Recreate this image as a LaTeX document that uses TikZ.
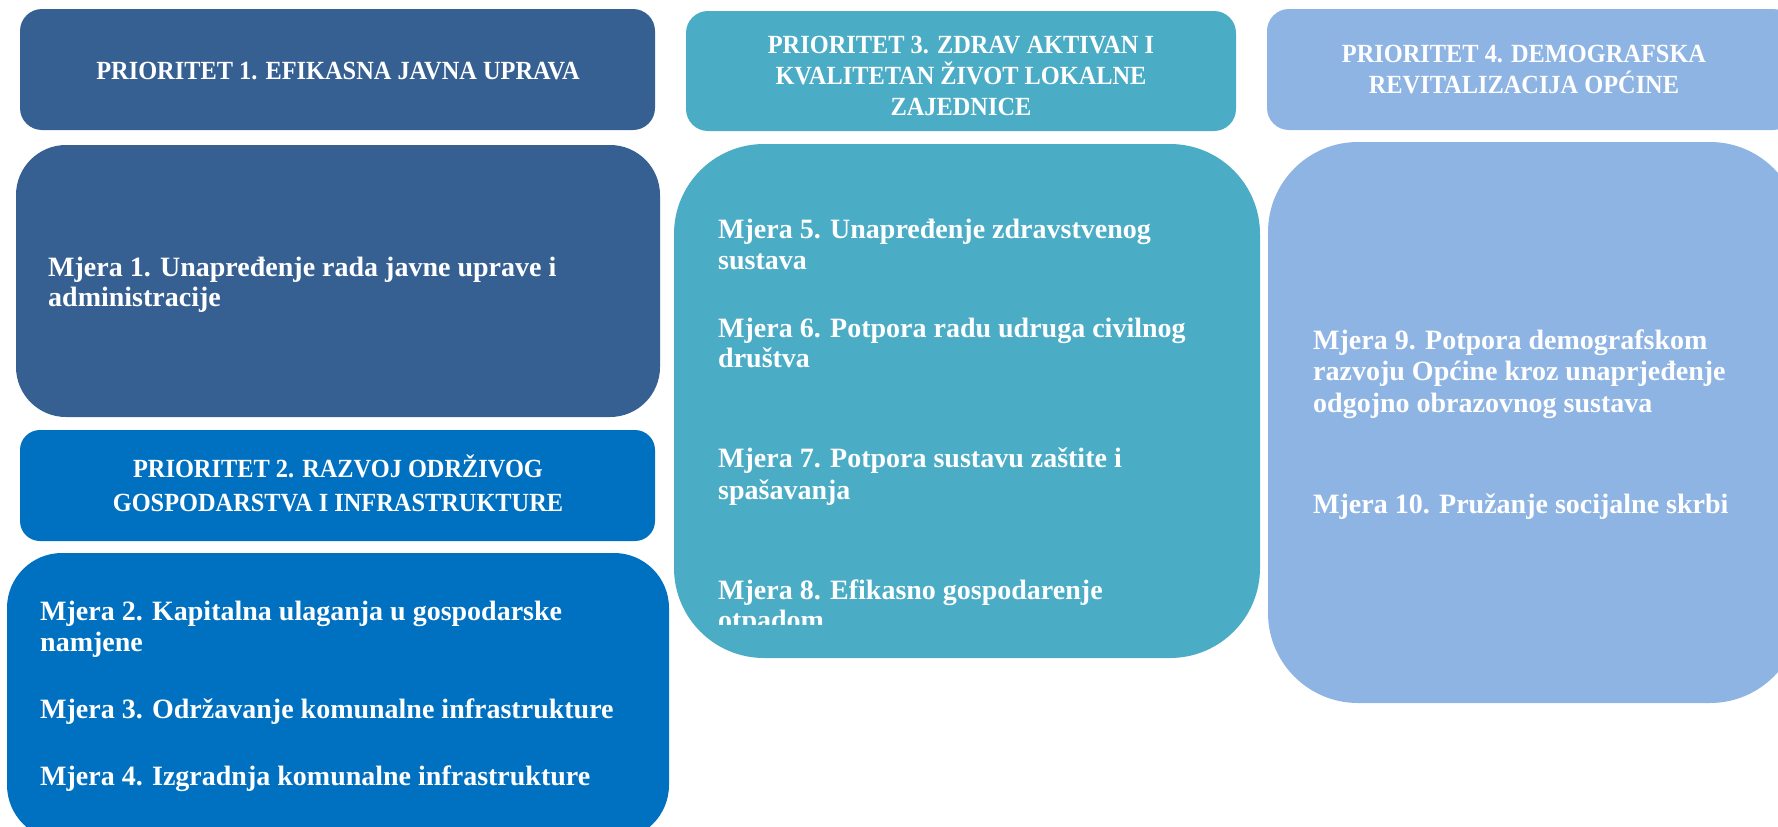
\documentclass[tikz,border=0pt]{standalone}
\usepackage{fontspec}
\setmainfont{Liberation Serif}
\newfontfamily\headfont[FakeStretch=0.93]{Liberation Serif}
\definecolor{cone}{HTML}{366092}
\definecolor{ctwo}{HTML}{0070C0}
\definecolor{cthree}{HTML}{4BACC6}
\definecolor{cfour}{HTML}{8EB4E3}
\tikzset{
  head/.style={text=white, inner sep=0pt, anchor=base, font=\headfont\bfseries\fontsize{26.2}{28}\selectfont},
  meas/.style={text=white, inner sep=0pt, anchor=base west, font=\bfseries\fontsize{28}{31}\selectfont},
}
\newcommand{\panelbox}[6]{% name, x1, y1, x2, y2, style
  \path[#6] (#2,#3) rectangle (#4,#5);
  \coordinate (#1) at ({(#2+#4)/2},{(#3+#5)/2});
}
\begin{document}
\begin{tikzpicture}[x=1pt,y=-1pt]
\useasboundingbox (0,0) rectangle (1778,827);
% column 1
\panelbox{p1}{20}{9}{655}{130}{fill=cone, rounded corners=22pt}
\panelbox{m1}{16}{145}{660}{417}{fill=cone, rounded corners=50pt}
\panelbox{p2}{20}{430}{655}{541}{fill=ctwo, rounded corners=20pt}
\panelbox{m2}{7}{553}{669}{840}{fill=ctwo, rounded corners=55pt}
% column 2
\panelbox{p3}{686}{11}{1236}{131}{fill=cthree, rounded corners=22pt}
\panelbox{m5}{674}{144}{1260}{658}{fill=cthree, rounded corners=90pt}
% column 3
\panelbox{p4}{1267}{9}{1795}{130}{fill=cfour, rounded corners=22pt}
\panelbox{m9}{1268}{142}{1800}{703}{fill=cfour, rounded corners=90pt}

\node[head] (t1) at (338,79) {PRIORITET 1. EFIKASNA JAVNA UPRAVA};
\node[meas] (t1a) at (48,276) {Mjera 1. Unapređenje rada javne uprave i};
\node[meas] (t1b) at (48,306) {administracije};

\node[head] (t2a) at (338,477) {PRIORITET 2. RAZVOJ ODRŽIVOG};
\node[head] (t2b) at (338,511) {GOSPODARSTVA I INFRASTRUKTURE};
\node[meas] (t2c) at (40,620) {Mjera 2. Kapitalna ulaganja u gospodarske};
\node[meas] (t2d) at (40,651) {namjene};
\node[meas] (t2e) at (40,718) {Mjera 3. Održavanje komunalne infrastrukture};
\node[meas] (t2f) at (40,785) {Mjera 4. Izgradnja komunalne infrastrukture};

\node[head] (t3a) at (961,53) {PRIORITET 3. ZDRAV AKTIVAN I};
\node[head] (t3b) at (961,84) {KVALITETAN ŽIVOT LOKALNE};
\node[head] (t3c) at (961,115) {ZAJEDNICE};
\node[meas] (t3d) at (718,238) {Mjera 5. Unapređenje zdravstvenog};
\node[meas] (t3e) at (718,269) {sustava};
\node[meas] (t3f) at (718,337) {Mjera 6. Potpora radu udruga civilnog};
\node[meas] (t3g) at (718,367) {društva};
\node[meas] (t3h) at (718,467) {Mjera 7. Potpora sustavu zaštite i};
\node[meas] (t3i) at (718,499) {spašavanja};
\node[meas] (t3j) at (718,599) {Mjera 8. Efikasno gospodarenje};
\begin{scope}
\clip (674,600) rectangle (1260,624);
\node[meas] (t3k) at (718,629) {otpadom};
\end{scope}

\node[head] (t4a) at (1524,62) {PRIORITET 4. DEMOGRAFSKA};
\node[head] (t4b) at (1524,93) {REVITALIZACIJA OPĆINE};
\node[meas] (t4c) at (1313,349) {Mjera 9. Potpora demografskom};
\node[meas] (t4d) at (1313,380) {razvoju Općine kroz unaprjeđenje};
\node[meas] (t4e) at (1313,412) {odgojno obrazovnog sustava};
\node[meas] (t4f) at (1313,513) {Mjera 10. Pružanje socijalne skrbi};
\end{tikzpicture}
\end{document}
